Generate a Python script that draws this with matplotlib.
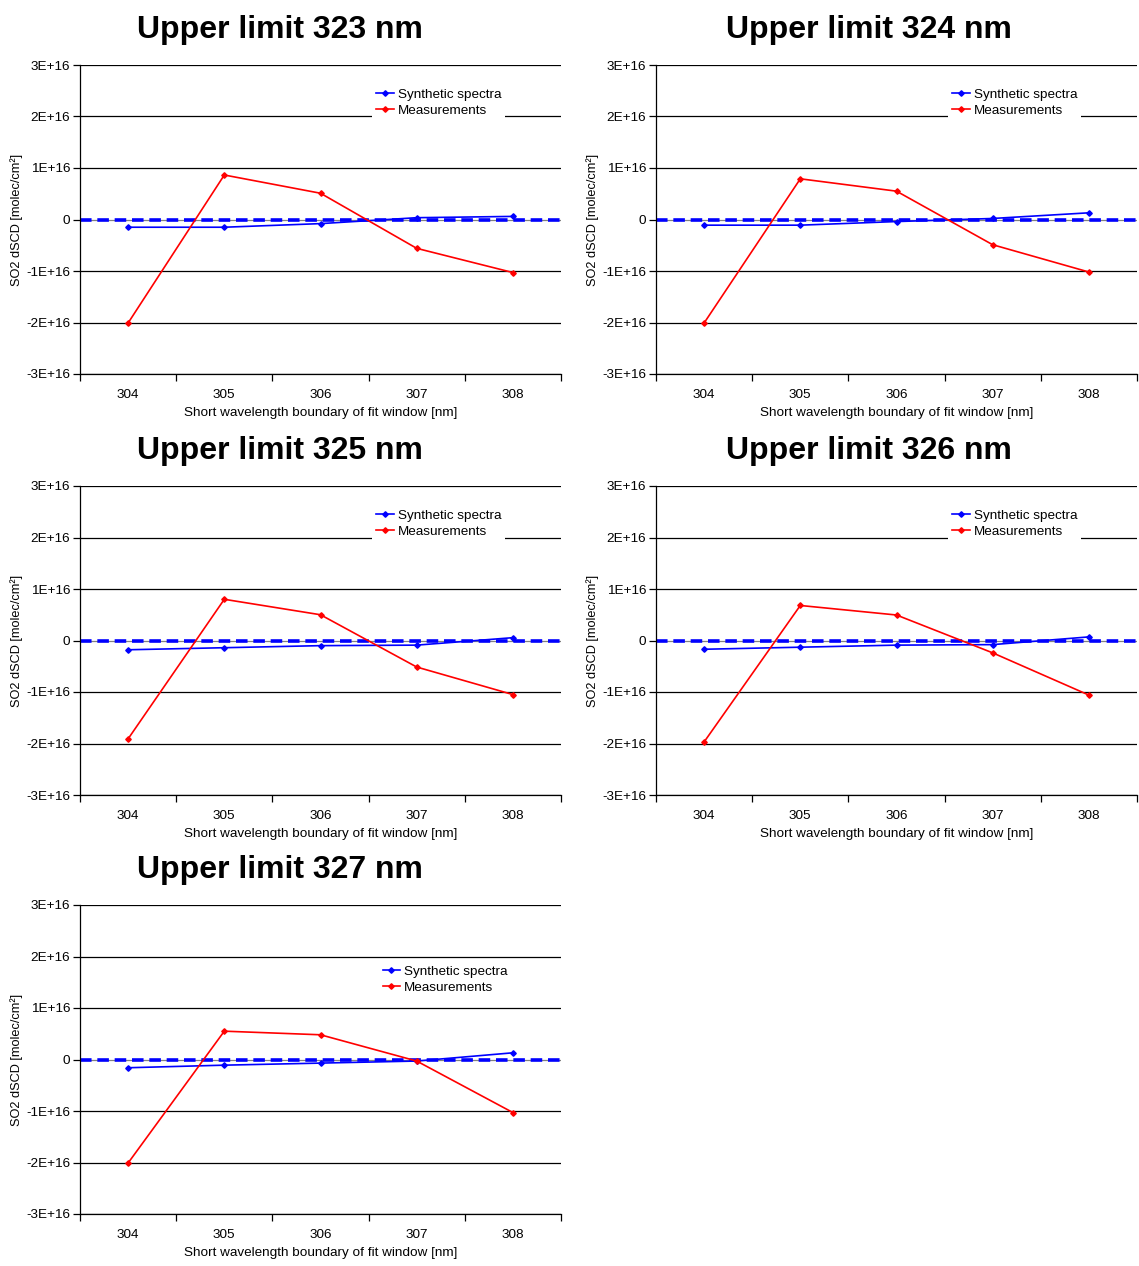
import matplotlib
matplotlib.use("Agg")
import matplotlib.pyplot as plt
from matplotlib.ticker import FixedLocator, NullFormatter

plt.rcParams['font.family'] = ['Liberation Sans', 'DejaVu Sans']

categories = ["304", "305", "306", "307", "308"]
titles = ["Upper limit 323 nm", "Upper limit 324 nm", "Upper limit 325 nm",
          "Upper limit 326 nm", "Upper limit 327 nm"]

synthetic_323 = [-0.15e16, -0.15e16, -0.08e16, 0.035e16, 0.06e16]
measured_323 = [-2.01e16, 0.864e16, 0.51e16, -0.56e16, -1.03e16]
synthetic_324 = [-0.11e16, -0.11e16, -0.04e16, 0.02e16, 0.13e16]
measured_324 = [-2.01e16, 0.79e16, 0.55e16, -0.49e16, -1.02e16]
synthetic_325 = [-0.18e16, -0.14e16, -0.10e16, -0.09e16, 0.055e16]
measured_325 = [-1.91e16, 0.80e16, 0.50e16, -0.515e16, -1.05e16]
synthetic_326 = [-0.17e16, -0.13e16, -0.09e16, -0.08e16, 0.07e16]
measured_326 = [-1.97e16, 0.68e16, 0.495e16, -0.24e16, -1.06e16]
synthetic_327 = [-0.16e16, -0.11e16, -0.07e16, -0.03e16, 0.13e16]
measured_327 = [-2.01e16, 0.55e16, 0.48e16, -0.03e16, -1.03e16]

synthetic = [synthetic_323, synthetic_324, synthetic_325, synthetic_326, synthetic_327]
measured = [measured_323, measured_324, measured_325, measured_326, measured_327]

yticks = [-3e16, -2e16, -1e16, 0, 1e16, 2e16, 3e16]
ytick_labels = ["-3E+16", "-2E+16", "-1E+16", "0", "1E+16", "2E+16", "3E+16"]
xlabel = "Short wavelength boundary of fit window [nm]"
ylabel = "SO2 dSCD [molec/cm²]"
legend_labels = ["Synthetic spectra", "Measurements"]

W, H = 1139, 1266
fig = plt.figure(figsize=(W / 100, H / 100), dpi=100)

# pixel layout: (left, right, top, bottom)
cols = [(80, 561), (656, 1137)]
rows = [(65, 374), (486, 795), (905, 1214)]
title_x = [280, 869]
legend_pos = [(0.607, 0.938), (0.607, 0.938), (0.607, 0.938), (0.607, 0.938), (0.621, 0.818)]
fs = 9.7

for i in range(5):
    r, c = divmod(i, 2)
    l, rr = cols[c]
    t, b = rows[r]
    ax = fig.add_axes([l / W, 1 - b / H, (rr - l) / W, (b - t) / H])
    x = list(range(len(categories)))
    ax.set_xlim(-0.5, len(categories) - 0.5)
    ax.set_ylim(-3e16, 3e16)
    for yv in yticks:
        ax.axhline(yv, color='black' if yv != 0 else '#808080', lw=0.9, zorder=1)
    ax.axhline(0, color='#0000FF', lw=2.6, ls=(0, (3.2, 1.6)), zorder=2)
    ax.plot(x, synthetic[i], color='#0000FF', lw=1.2, marker='D', ms=2.8,
            label=legend_labels[0], zorder=3)
    ax.plot(x, measured[i], color='#FF0000', lw=1.2, marker='D', ms=2.8,
            label=legend_labels[1], zorder=4)
    ax.set_yticks(yticks)
    ax.set_yticklabels(ytick_labels, fontsize=fs)
    ax.set_xticks(x)
    ax.set_xticklabels(categories, fontsize=fs)
    ax.tick_params(axis='x', which='major', length=0, pad=11)
    ax.xaxis.set_minor_locator(FixedLocator([k + 0.5 for k in range(-1, len(categories))]))
    ax.xaxis.set_minor_formatter(NullFormatter())
    ax.tick_params(axis='x', which='minor', length=5, width=0.9, direction='out')
    ax.tick_params(axis='y', length=5, width=0.9, direction='out', pad=2)
    for s in ['top', 'right']:
        ax.spines[s].set_visible(False)
    ax.spines['left'].set_linewidth(0.9)
    ax.spines['bottom'].set_linewidth(0.9)
    ax.spines['bottom'].set_zorder(5)
    ax.set_xlabel(xlabel, fontsize=fs, labelpad=4)
    ax.set_ylabel(ylabel, fontsize=9.2)
    ax.yaxis.set_label_coords(-0.118, 0.5)
    leg = ax.legend(loc='upper left', bbox_to_anchor=legend_pos[i], fontsize=fs,
                    frameon=True, fancybox=False, framealpha=1, edgecolor='none',
                    facecolor='white', handlelength=1.3, handletextpad=0.3,
                    labelspacing=0.3, borderpad=0.3, borderaxespad=0)
    leg.set_zorder(6)
    fig.text(title_x[c] / W, 1 - (t - 35) / H, titles[i], fontsize=23,
             fontweight='bold', ha='center', va='center')

fig.savefig("out.png", dpi=100)
